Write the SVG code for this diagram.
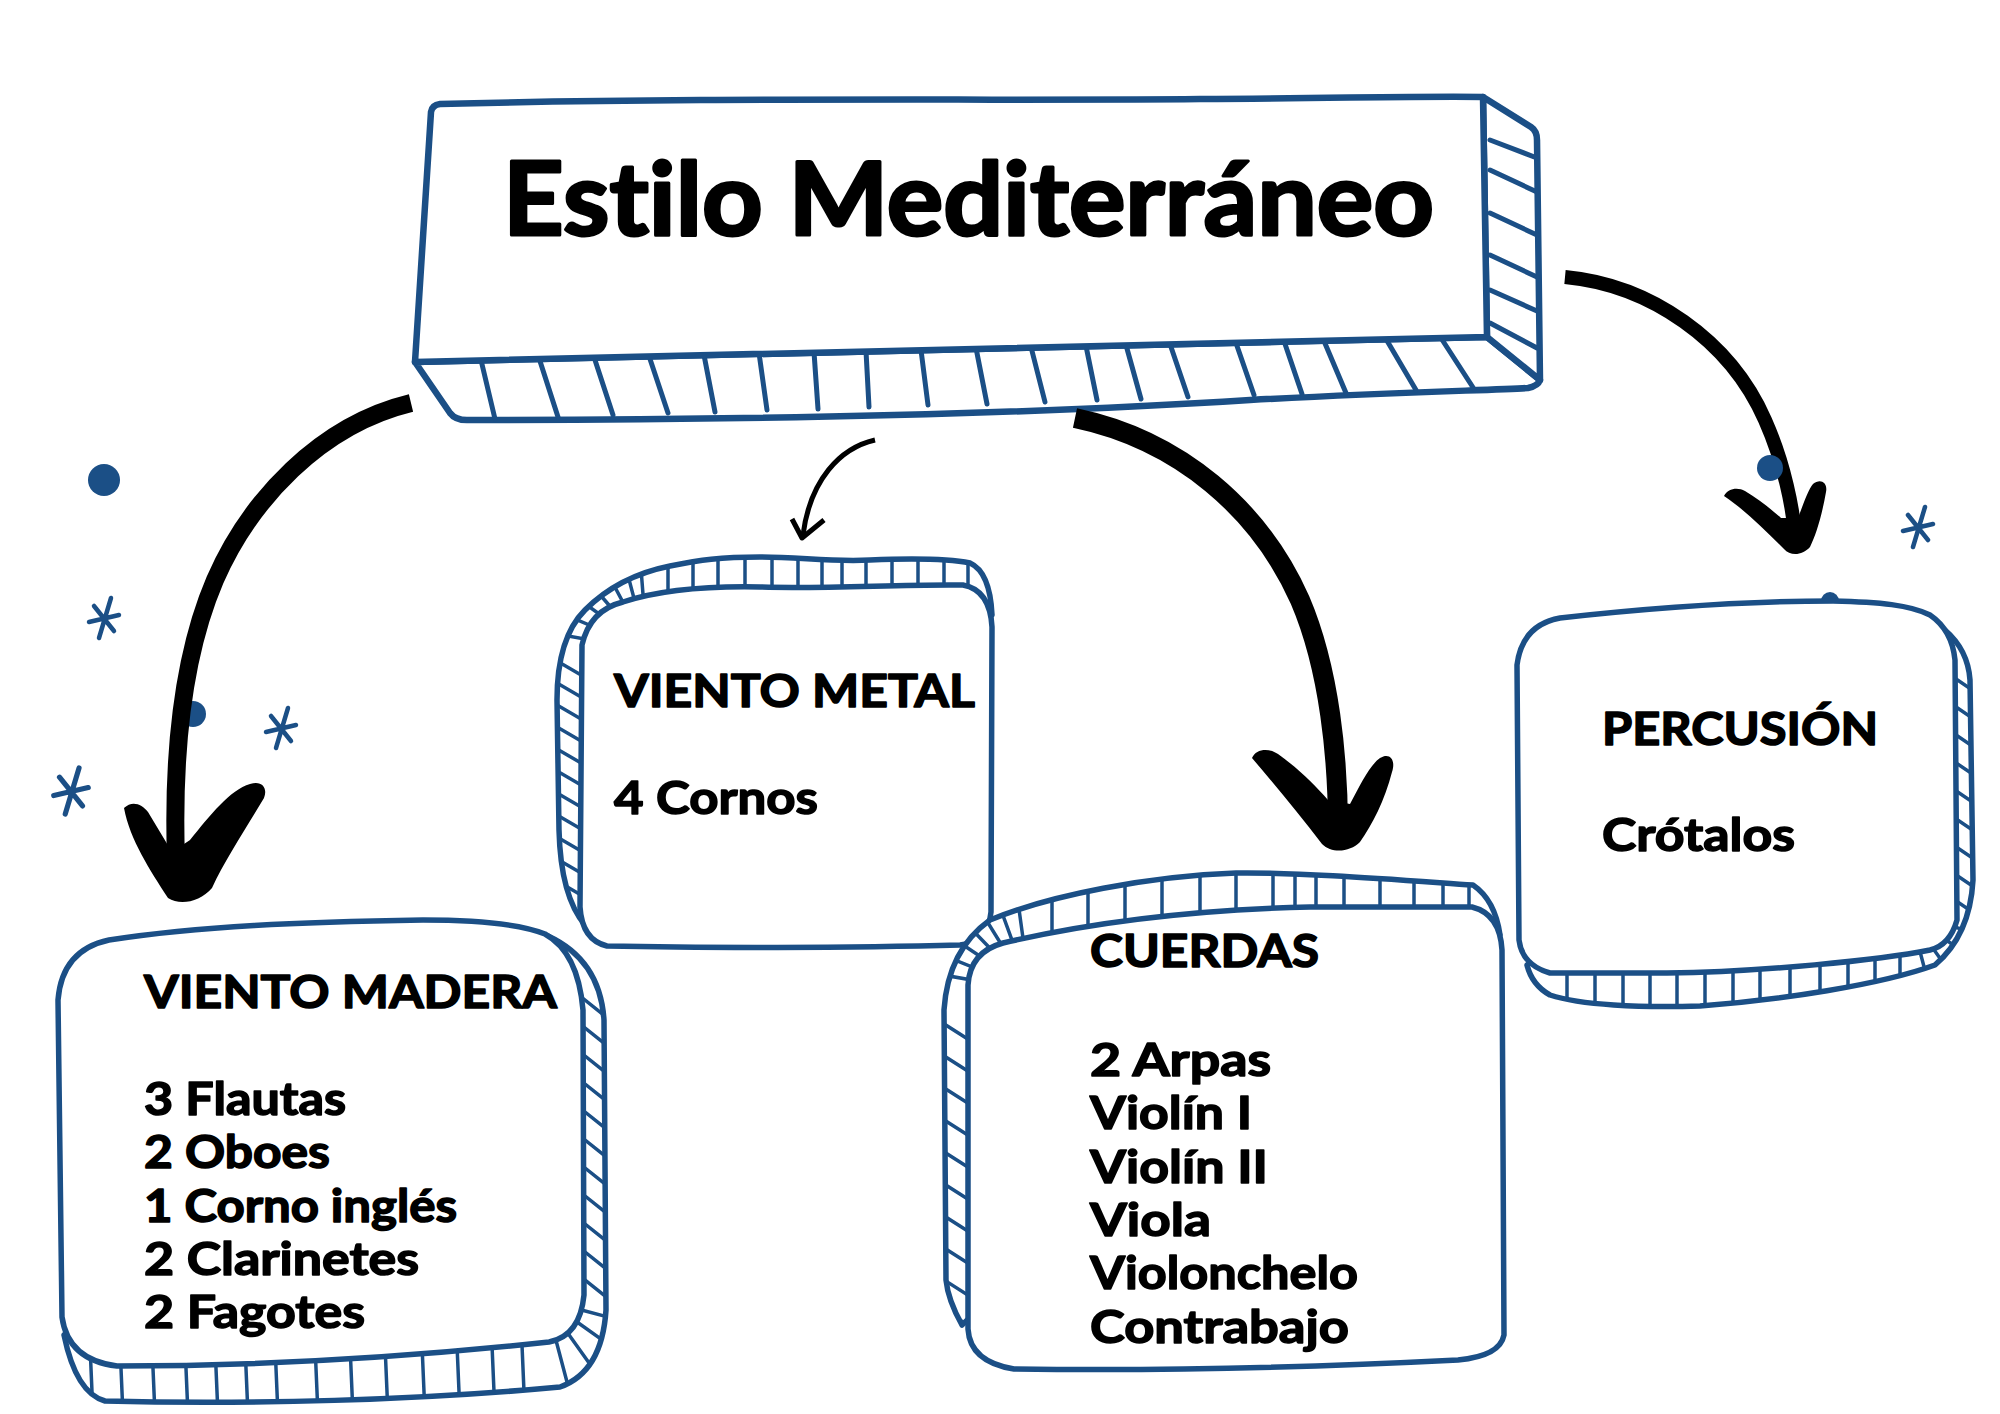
<svg xmlns="http://www.w3.org/2000/svg" width="2000" height="1414" viewBox="0 0 2000 1414">
<style>
.edge{fill:#fff;stroke:#1b4f86;stroke-width:5.5;stroke-linejoin:round}
.tedge{fill:#fff;stroke:#1b4f86;stroke-width:6.5;stroke-linejoin:round}
.stripe{stroke:#1b4f86;stroke-width:3.5;fill:none;stroke-linecap:round}
.tstripe{stroke:#1b4f86;stroke-width:5;fill:none;stroke-linecap:round}
.lbl{font-family:Lato,"Liberation Sans",sans-serif;font-weight:700;font-size:46px;fill:#000;stroke:#000;stroke-width:1.5;stroke-linejoin:round;font-variant-ligatures:none}
.ttl{font-family:Lato,"Liberation Sans",sans-serif;font-weight:700;font-size:101px;fill:#000;stroke:#000;stroke-width:3;stroke-linejoin:round;font-variant-ligatures:none}
.shaft{fill:none;stroke:#000;stroke-linecap:butt}
.head{fill:#000}
.dot{fill:#1b4f86}
.ast{stroke:#1b4f86;stroke-width:4.5;stroke-linecap:round;fill:none}
</style>
<defs>
<g id="asterisk"><path class="ast" d="M7,-20 L-5,20 M-15,4 L15,-3 M-10,-12 L10,13"/></g>
<clipPath id="cMetal"><path d="M585,925 C568,905 560,870 559,830 L557,700 C557,660 565,630 585,610 C610,585 640,572 670,566 C700,560 720,557 760,557 C800,557 830,562 870,560 C920,558 950,559 970,563 Q990,572 992,615 L800,760 Z"/></clipPath>
<clipPath id="cCuer"><path d="M962,1325 Q948,1300 946,1280 L944,1010 Q948,950 990,920 C1050,895 1150,876 1236,873 C1300,872 1400,880 1473,885 Q1495,900 1500,935 L1200,1100 Z"/></clipPath>
<clipPath id="cPerc"><path d="M1945,630 Q1968,650 1970,680 L1973,880 Q1970,935 1935,965 C1880,985 1780,1000 1700,1006 C1640,1008 1580,1005 1550,995 Q1532,985 1527,965 L1750,800 Z"/></clipPath>
<clipPath id="cMad"><path d="M548,936 Q600,960 604,1020 L606,1310 Q602,1372 560,1387 C420,1400 250,1405 105,1401 Q76,1393 64,1335 L300,1150 Z"/></clipPath>
</defs>
<rect width="2000" height="1414" fill="#fff"/>

<g id="decorations">
<circle class="dot" cx="104" cy="480" r="16"/>
<circle class="dot" cx="193" cy="714" r="13"/>
<circle class="dot" cx="1830" cy="601" r="9"/>
<use href="#asterisk" transform="translate(104,618)"/>
<use href="#asterisk" transform="translate(281,728)"/>
<use href="#asterisk" transform="translate(71,791) scale(1.15)"/>
<use href="#asterisk" transform="translate(1918,527)"/>
</g>

<g id="title">
<path class="tedge" d="M415,362 L450,413 Q456,421 470,420 C700,420 1000,416 1250,400 C1400,392 1500,390 1528,388 Q1538,386 1540,380 L1487,337 C1300,343 900,352 415,362 Z"/>
<path class="tedge" d="M1483,97 L1531,127 Q1537,131 1537,140 L1540,380 L1487,337 Z"/>
<path class="tstripe" d="M481,360 L495,419 M539,358 L558,417 M594,357 L613,415 M649,356 L668,413 M704,355 L715,412 M759,353 L767,410 M814,352 L818,409 M866,351 L869,407 M921,350 L928,405 M976,348 L987,404 M1031,347 L1045,402 M1086,346 L1097,400 M1126,345 L1141,399 M1170,344 L1188,397 M1236,343 L1254,395 M1284,341 L1302,394 M1324,341 L1346,393 M1386,339 L1416,390 M1441,338 L1474,389"/>
<path class="tstripe" d="M1490,140 L1537,158 M1490,170 L1537,192 M1490,213 L1537,235 M1490,255 L1537,277 M1490,290 L1537,311 M1490,323 L1537,348"/>
<path class="tedge" d="M440,104 C700,97 1000,101 1200,99 C1350,98 1430,96 1483,97 L1487,337 C1300,343 900,352 415,362 L431,112 Q432,105 440,104 Z"/>
<text class="ttl" x="503" y="235" textLength="931" lengthAdjust="spacingAndGlyphs">Estilo Mediterráneo</text>
</g>

<g id="viento-metal">
<path class="edge" d="M585,925 C568,905 560,870 559,830 L557,700 C557,660 565,630 585,610 C610,585 640,572 670,566 C700,560 720,557 760,557 C800,557 830,562 870,560 C920,558 950,559 970,563 Q990,572 992,615 L800,760 Z"/>
<g clip-path="url(#cMetal)">
<path class="stripe" d="M668,540 L668,605 M693,540 L693,605 M718,540 L718,605 M745,540 L745,605 M772,540 L772,605 M798,540 L798,605 M822,540 L822,605 M842,540 L842,605 M866,540 L866,605 M892,540 L892,605 M918,540 L918,605 M944,540 L944,605 M968,540 L968,605"/>
<path class="stripe" d="M618,645 L530,629 M620,638 L537,603 M624,632 L551,579 M628,627 L569,559 M634,623 L592,544 M640,621 L617,534 M645,620 L638,530"/>
<path class="stripe" d="M545,654 L600,686 M545,676 L600,708 M545,698 L600,730 M545,720 L600,752 M545,742 L600,774 M545,764 L600,796 M545,786 L600,818 M545,808 L600,840 M545,830 L600,862 M545,852 L600,884 M545,874 L600,906 M545,894 L600,926"/>
</g>
<path class="edge" d="M623,602 C660,590 710,586 760,587 C830,589 900,584 963,585 Q990,590 992,627 L991,912 Q988,942 960,945 C850,948 700,948 607,946 Q582,940 580,907 L582,645 Q590,610 623,602 Z"/>
<text class="lbl" x="614" y="707" textLength="361" lengthAdjust="spacingAndGlyphs">VIENTO METAL</text>
<text class="lbl" x="614" y="814" textLength="204" lengthAdjust="spacingAndGlyphs">4 Cornos</text>
</g>

<g id="cuerdas">
<path class="edge" d="M962,1325 Q948,1300 946,1280 L944,1010 Q948,950 990,920 C1050,895 1150,876 1236,873 C1300,872 1400,880 1473,885 Q1495,900 1500,935 L1200,1100 Z"/>
<g clip-path="url(#cCuer)">
<path class="stripe" d="M1052,860 L1052,940 M1088,860 L1088,940 M1125,860 L1125,940 M1162,860 L1162,940 M1200,860 L1200,940 M1236,860 L1236,940 M1273,860 L1273,940 M1295,860 L1295,940 M1316,860 L1316,940 M1344,860 L1344,940 M1380,860 L1380,940 M1414,860 L1414,940 M1443,860 L1443,940 M1469,860 L1469,940"/>
<path class="stripe" d="M1000,985 L892,966 M1002,979 L900,938 M1005,973 L914,912 M1009,968 L933,889 M1014,965 L956,871 M1020,962 L982,858 M1026,960 L1011,851"/>
<path class="stripe" d="M930,1015 L985,1050 M930,1047 L985,1082 M930,1079 L985,1114 M930,1111 L985,1146 M930,1143 L985,1178 M930,1175 L985,1210 M930,1207 L985,1242 M930,1239 L985,1274 M930,1271 L985,1306 M930,1301 L985,1336"/>
</g>
<path class="edge" d="M1003,943 C1080,925 1180,910 1310,907 L1472,907 Q1500,914 1502,950 L1504,1335 Q1500,1356 1458,1360 C1300,1368 1150,1371 1014,1369 Q970,1362 968,1329 L968,985 Q970,952 1003,943 Z"/>
<text class="lbl" x="1090" y="967" textLength="229" lengthAdjust="spacingAndGlyphs">CUERDAS</text>
<text class="lbl" x="1090" y="1076" textLength="181" lengthAdjust="spacingAndGlyphs">2 Arpas</text>
<text class="lbl" x="1090" y="1129" textLength="162" lengthAdjust="spacingAndGlyphs">Violín I</text>
<text class="lbl" x="1090" y="1183" textLength="178" lengthAdjust="spacingAndGlyphs">Violín II</text>
<text class="lbl" x="1090" y="1236" textLength="121" lengthAdjust="spacingAndGlyphs">Viola</text>
<text class="lbl" x="1090" y="1289" textLength="268" lengthAdjust="spacingAndGlyphs">Violonchelo</text>
<text class="lbl" x="1090" y="1343" textLength="259" lengthAdjust="spacingAndGlyphs">Contrabajo</text>
</g>

<g id="percusion">
<path class="edge" d="M1945,630 Q1968,650 1970,680 L1973,880 Q1970,935 1935,965 C1880,985 1780,1000 1700,1006 C1640,1008 1580,1005 1550,995 Q1532,985 1527,965 L1750,800 Z"/>
<g clip-path="url(#cPerc)">
<path class="stripe" d="M1940,668 L1990,702 M1940,696 L1990,730 M1940,724 L1990,758 M1940,752 L1990,786 M1940,780 L1990,814 M1940,808 L1990,842 M1940,836 L1990,870 M1940,864 L1990,898 M1940,890 L1990,924"/>
<path class="stripe" d="M1939,923 L2026,946 M1935,932 L2008,984 M1927,940 L1979,1013 M1918,944 L1941,1031"/>
<path class="stripe" d="M1567,950 L1567,1020 M1595,950 L1595,1020 M1623,950 L1623,1020 M1650,950 L1650,1020 M1677,950 L1677,1020 M1705,950 L1705,1020 M1733,950 L1733,1020 M1760,950 L1760,1020 M1790,950 L1790,1020 M1820,950 L1820,1020 M1848,950 L1848,1020 M1875,950 L1875,1020 M1900,950 L1900,1020"/>
</g>
<path class="edge" d="M1560,618 C1650,608 1750,601 1833,601 C1880,602 1910,605 1930,615 Q1952,630 1955,660 L1957,920 Q1950,945 1930,950 C1880,960 1760,972 1667,973 L1550,973 Q1522,965 1519,940 L1517,665 Q1522,625 1560,618 Z"/>
<text class="lbl" x="1602" y="745" textLength="276" lengthAdjust="spacingAndGlyphs">PERCUSIÓN</text>
<text class="lbl" x="1602" y="851" textLength="193" lengthAdjust="spacingAndGlyphs">Crótalos</text>
</g>

<g id="viento-madera">
<path class="edge" d="M548,936 Q600,960 604,1020 L606,1310 Q602,1372 560,1387 C420,1400 250,1405 105,1401 Q76,1393 64,1335 L300,1150 Z"/>
<g clip-path="url(#cMad)">
<path class="stripe" d="M570,988 L620,1028 M570,1016 L620,1056 M570,1044 L620,1084 M570,1072 L620,1112 M570,1100 L620,1140 M570,1128 L620,1168 M570,1156 L620,1196 M570,1184 L620,1224 M570,1212 L620,1252 M570,1240 L620,1280 M570,1268 L620,1308"/>
<path class="stripe" d="M574,1308 L661,1331 M570,1317 L643,1369 M562,1325 L614,1398 M553,1329 L576,1416"/>
<path class="stripe" d="M90,1345 L93,1415 M120,1345 L123,1415 M152,1345 L155,1415 M185,1345 L188,1415 M215,1345 L218,1415 M245,1345 L248,1415 M275,1345 L278,1415 M315,1345 L318,1415 M350,1345 L353,1415 M385,1345 L388,1415 M422,1345 L425,1415 M457,1345 L460,1415 M492,1345 L495,1415 M522,1345 L525,1415"/>
</g>
<path class="edge" d="M109,940 C200,926 300,922 423,920 C480,920 520,924 545,934 Q578,952 583,1010 L584,1295 Q580,1336 549,1342 C400,1358 250,1366 117,1366 Q68,1360 62,1317 L58,1000 Q62,950 109,940 Z"/>
<text class="lbl" x="144" y="1008" textLength="413" lengthAdjust="spacingAndGlyphs">VIENTO MADERA</text>
<text class="lbl" x="144" y="1115" textLength="202" lengthAdjust="spacingAndGlyphs">3 Flautas</text>
<text class="lbl" x="144" y="1168" textLength="186" lengthAdjust="spacingAndGlyphs">2 Oboes</text>
<text class="lbl" x="144" y="1222" textLength="313" lengthAdjust="spacingAndGlyphs">1 Corno inglés</text>
<text class="lbl" x="144" y="1275" textLength="275" lengthAdjust="spacingAndGlyphs">2 Clarinetes</text>
<text class="lbl" x="144" y="1328" textLength="221" lengthAdjust="spacingAndGlyphs">2 Fagotes</text>
</g>

<g id="connectors">
<path class="shaft" stroke-width="18" d="M411,403 C320,425 250,500 215,580 C185,650 172,740 176,860"/>
<path class="head" d="M124,808 C132,800 142,804 148,812 L172,852 L190,840 C210,815 230,790 250,784 C262,780 268,788 264,798 C245,830 225,860 212,888 C200,902 180,906 168,898 C150,870 130,840 124,808 Z"/>
<path class="shaft" stroke-width="20" d="M1075,418 C1180,440 1260,510 1300,600 C1330,670 1338,760 1338,830"/>
<path class="head" d="M1252,758 C1256,748 1270,748 1278,754 C1300,770 1315,785 1328,800 L1350,804 C1360,785 1370,765 1380,758 C1390,752 1396,760 1392,772 C1385,800 1372,825 1360,842 C1350,852 1332,854 1322,844 C1300,815 1275,785 1252,758 Z"/>
<path class="shaft" stroke-width="14" d="M1565,277 C1650,285 1730,340 1765,420 C1785,465 1793,510 1795,535"/>
<path class="head" d="M1724,496 C1728,488 1738,487 1745,491 C1760,500 1772,510 1781,518 L1798,518 C1803,505 1808,490 1813,484 C1820,478 1828,482 1826,492 C1822,515 1816,535 1810,547 C1802,556 1790,556 1784,549 C1765,530 1745,510 1724,496 Z"/>
<path class="shaft" stroke-width="5" stroke-linecap="round" d="M875,440 C840,448 810,480 803,535"/>
<path class="shaft" stroke-width="5" stroke-linecap="round" stroke-linejoin="round" d="M792,519 L802,538 L824,520"/>
<circle class="dot" cx="1770" cy="468" r="13"/>
</g>
</svg>
